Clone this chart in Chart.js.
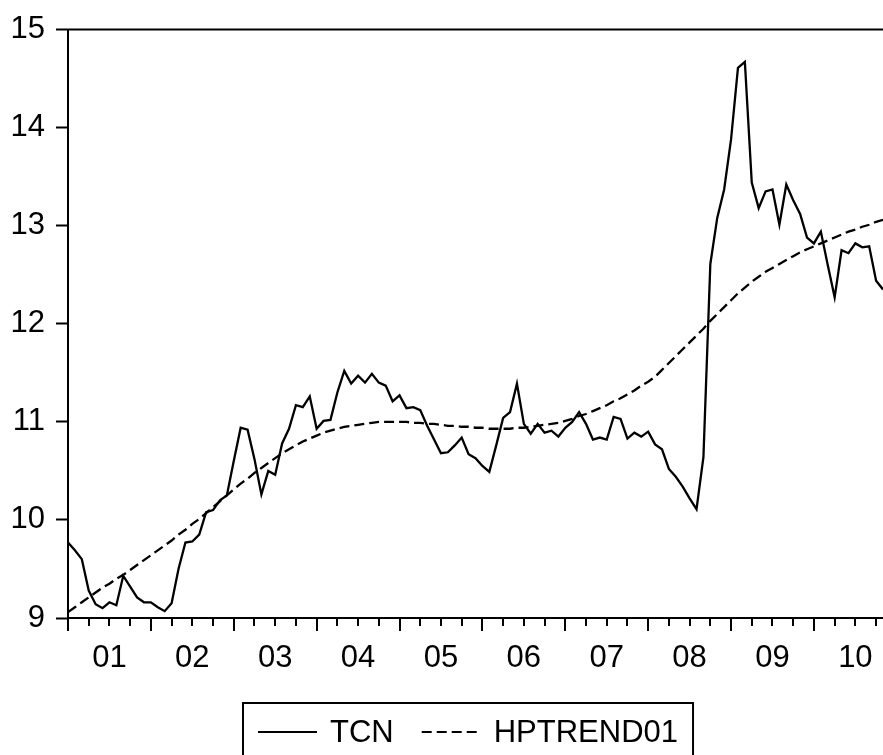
<!DOCTYPE html>
<html>
<head>
<meta charset="utf-8">
<script src="https://cdn.jsdelivr.net/npm/chart.js@4/dist/chart.umd.min.js"></script>
<style>
  html, body { margin: 0; padding: 0; background: #fff; }
  #wrap { width: 883px; height: 755px; }
</style>
</head>
<body>
<div id="wrap"><canvas id="chart" width="883" height="755"></canvas></div>
<script>
// monthly data, 2001M01 .. 2010M11
const yearLabels = ['01', '02', '03', '04', '05', '06', '07', '08', '09', '10'];

const tcn = [
  9.77, 9.69, 9.60, 9.28, 9.14, 9.10, 9.16, 9.13, 9.43, 9.32, 9.21, 9.16,
  9.16, 9.11, 9.07, 9.15, 9.50, 9.77, 9.78, 9.85, 10.08, 10.10, 10.20, 10.25,
  10.60, 10.94, 10.92, 10.62, 10.26, 10.50, 10.46, 10.78, 10.93, 11.17, 11.15, 11.26,
  10.93, 11.01, 11.02, 11.30, 11.52, 11.39, 11.47, 11.40, 11.49, 11.40, 11.37, 11.21,
  11.27, 11.14, 11.15, 11.12, 10.96, 10.82, 10.68, 10.69, 10.76, 10.84, 10.67, 10.63,
  10.55, 10.49, 10.76, 11.04, 11.10, 11.39, 10.98, 10.88, 10.98, 10.89, 10.91, 10.85,
  10.94, 11.00, 11.10, 10.98, 10.82, 10.84, 10.82, 11.05, 11.03, 10.83, 10.89, 10.85,
  10.90, 10.77, 10.72, 10.52, 10.44, 10.34, 10.22, 10.11, 10.64, 12.61, 13.08, 13.37,
  13.88, 14.61, 14.67, 13.44, 13.18, 13.35, 13.37, 13.01, 13.42, 13.26, 13.12, 12.88,
  12.82, 12.94, 12.60, 12.27, 12.75, 12.72, 12.82, 12.78, 12.79, 12.44, 12.35
];

const hpTrend = [
  9.06, 9.11, 9.16, 9.21, 9.26, 9.31, 9.35, 9.40, 9.44, 9.49, 9.54, 9.59,
  9.64, 9.69, 9.74, 9.79, 9.85, 9.90, 9.96, 10.01, 10.07, 10.13, 10.19, 10.25,
  10.31, 10.37, 10.42, 10.48, 10.53, 10.58, 10.63, 10.68, 10.72, 10.76, 10.80, 10.83,
  10.86, 10.89, 10.91, 10.93, 10.95, 10.96, 10.97, 10.98, 10.99, 11.00, 11.00, 11.00,
  11.00, 11.00, 10.99, 10.99, 10.98, 10.98, 10.97, 10.96, 10.96, 10.95, 10.95, 10.94,
  10.94, 10.93, 10.93, 10.93, 10.93, 10.94, 10.94, 10.95, 10.96, 10.97, 10.98, 10.99,
  11.01, 11.03, 11.06, 11.08, 11.11, 11.14, 11.17, 11.21, 11.24, 11.28, 11.32, 11.37,
  11.41, 11.46, 11.53, 11.60, 11.67, 11.74, 11.81, 11.88, 11.95, 12.03, 12.10, 12.17,
  12.24, 12.31, 12.37, 12.43, 12.48, 12.53, 12.57, 12.61, 12.65, 12.69, 12.73, 12.76,
  12.79, 12.82, 12.85, 12.88, 12.91, 12.94, 12.96, 12.99, 13.01, 13.04, 13.06
];

const FONT = 'Liberation Sans, Arial, sans-serif';

function toPoints(arr) {
  return arr.map((v, i) => ({ x: i, y: v }));
}

// top frame, quarterly tick marks (long ones at each new year) and the boxed legend
const frameAndLegend = {
  id: 'frameAndLegend',
  afterDraw(chart) {
    const ctx = chart.ctx;
    const area = chart.chartArea;
    const xs = chart.scales.x;
    ctx.save();
    ctx.strokeStyle = '#000';
    ctx.lineWidth = 2;

    ctx.beginPath();
    ctx.moveTo(area.left - 1, area.top);
    ctx.lineTo(area.right, area.top);
    ctx.stroke();

    ctx.beginPath();
    for (let m = 0; m < tcn.length; m += 3) {
      const px = Math.round(xs.getPixelForValue(m));
      const len = m % 12 === 0 ? 13 : 8;
      ctx.moveTo(px, area.bottom);
      ctx.lineTo(px, area.bottom + len);
    }
    ctx.stroke();

    // legend
    const bx = 243, by = 703, bh = 70;
    ctx.font = '31px ' + FONT;
    const pad = 15, sample = 59, gapText = 13, gapItem = 28;
    let w = pad;
    chart.data.datasets.forEach((ds, i) => {
      w += sample + gapText + ctx.measureText(ds.label).width;
      if (i < chart.data.datasets.length - 1) w += gapItem;
    });
    w += pad;
    ctx.strokeRect(bx, by, w, bh);

    let cx = bx + pad;
    const cy = by + 29;
    ctx.textBaseline = 'middle';
    ctx.fillStyle = '#000';
    chart.data.datasets.forEach((ds) => {
      ctx.save();
      ctx.setLineDash(ds.borderDash || []);
      ctx.beginPath();
      ctx.moveTo(cx, cy);
      ctx.lineTo(cx + sample, cy);
      ctx.stroke();
      ctx.restore();
      cx += sample + gapText;
      ctx.fillText(ds.label, cx, cy + 1);
      cx += ctx.measureText(ds.label).width + gapItem;
    });
    ctx.restore();
  }
};

new Chart(document.getElementById('chart'), {
  type: 'line',
  data: {
    datasets: [
      {
        label: 'TCN',
        data: toPoints(tcn),
        borderColor: '#000',
        borderWidth: 2.3,
        pointRadius: 0,
        tension: 0
      },
      {
        label: 'HPTREND01',
        data: toPoints(hpTrend),
        borderColor: '#000',
        borderWidth: 2.3,
        borderDash: [10, 5],
        pointRadius: 0,
        tension: 0
      }
    ]
  },
  options: {
    responsive: false,
    animation: false,
    layout: { padding: { top: 28, right: 0, bottom: 77, left: 0 } },
    plugins: {
      legend: { display: false },
      tooltip: { enabled: false }
    },
    scales: {
      x: {
        type: 'linear',
        min: 0,
        max: tcn.length - 1,
        afterFit: (s) => {
          s.height = 60;
          s.paddingLeft = 0;
          s.paddingRight = 0;
        },
        afterBuildTicks: (s) => {
          s.ticks = yearLabels.map((_, k) => ({ value: 6 + 12 * k }));
        },
        ticks: {
          autoSkip: false,
          maxRotation: 0,
          padding: 22,
          color: '#000',
          font: { family: FONT, size: 31 },
          callback: (v) => yearLabels[(v - 6) / 12]
        },
        grid: { display: false, drawTicks: false },
        border: { display: true, color: '#000', width: 2 }
      },
      y: {
        min: 9,
        max: 15,
        afterFit: (s) => { s.width = 68; },
        ticks: {
          stepSize: 1,
          padding: 11,
          color: '#000',
          font: { family: FONT, size: 31 }
        },
        grid: {
          drawOnChartArea: false,
          drawTicks: true,
          tickLength: 12,
          tickColor: '#000',
          tickWidth: 2
        },
        border: { display: true, color: '#000', width: 2 }
      }
    }
  },
  plugins: [frameAndLegend]
});
</script>
</body>
</html>
